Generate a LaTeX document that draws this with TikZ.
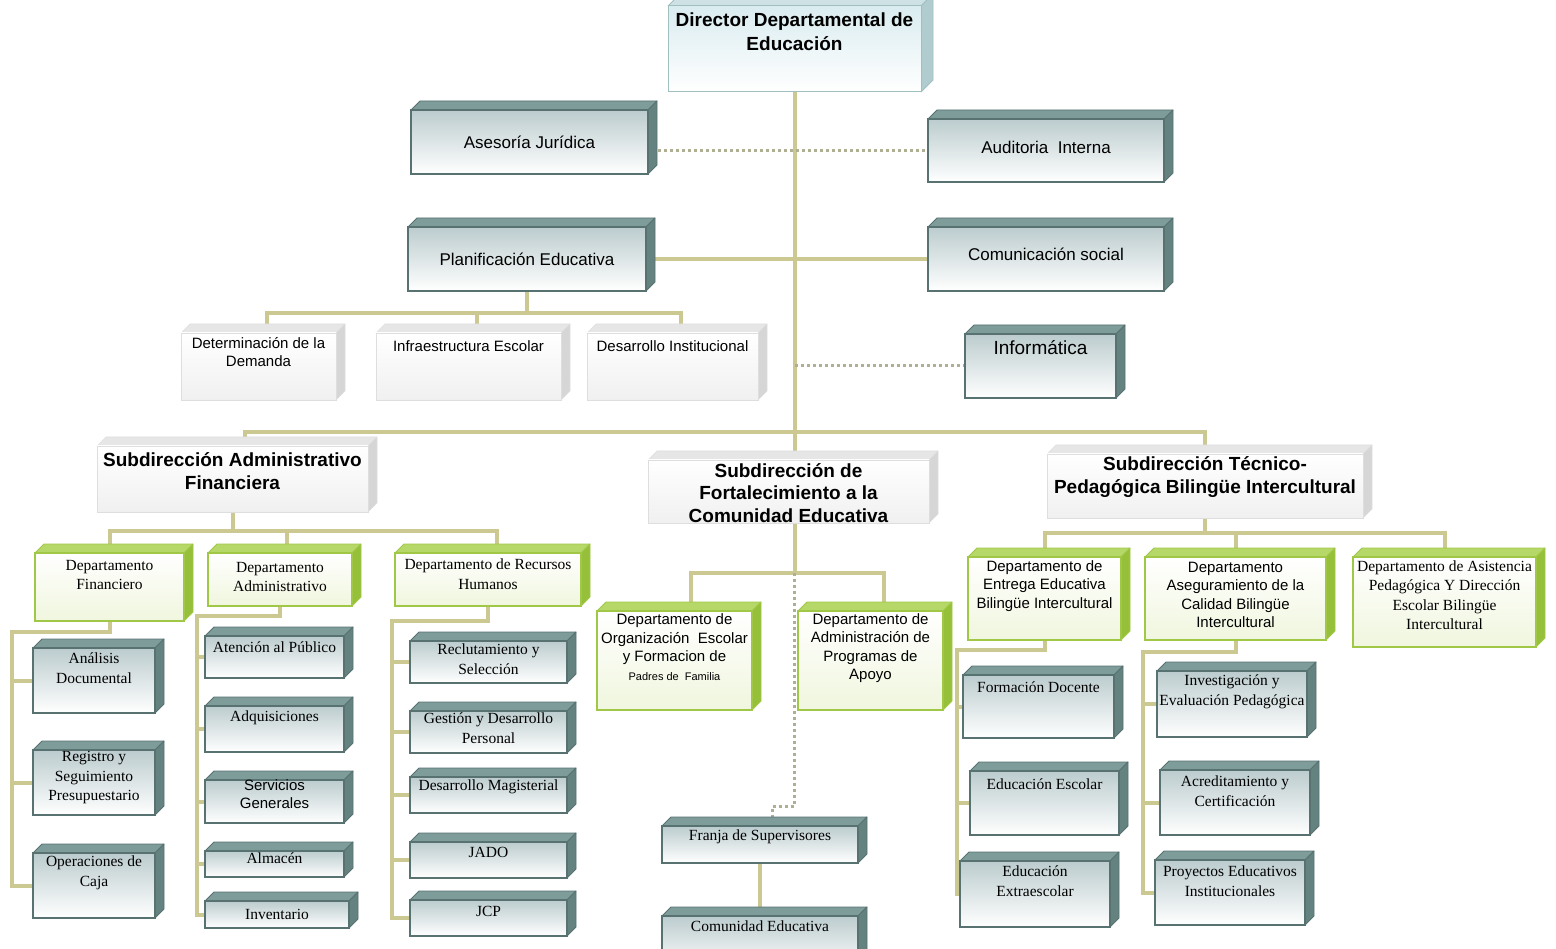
\documentclass[tikz,border=0pt]{standalone}
\usepackage{fontspec}
\setmainfont{Liberation Serif}
\setsansfont{Liberation Sans}
\usetikzlibrary{calc}
\pgfdeclarelayer{bg}
\pgfsetlayers{bg,main}

\definecolor{linec}{RGB}{204,200,146}
\definecolor{dotc}{RGB}{175,175,148}
\definecolor{tealb}{RGB}{88,114,114}
\definecolor{tealtopc}{RGB}{126,156,154}
\definecolor{tealsidec}{RGB}{100,130,128}
\definecolor{tealfacec}{RGB}{188,204,206}
\definecolor{grnb}{RGB}{160,200,70}
\definecolor{grntopc}{RGB}{182,216,104}
\definecolor{grnsidec}{RGB}{150,192,58}
\definecolor{grnfacec}{RGB}{240,246,222}
\definecolor{gryb}{RGB}{222,222,222}
\definecolor{grytopc}{RGB}{230,230,230}
\definecolor{grysidec}{RGB}{214,214,214}
\definecolor{gryfacec}{RGB}{240,240,240}
\definecolor{dirb}{RGB}{160,192,192}
\definecolor{dirtopc}{RGB}{206,226,230}
\definecolor{dirsidec}{RGB}{176,204,206}
\definecolor{dirfacec}{RGB}{218,236,240}

\def\depteal{9}
\def\depgreen{9}
\def\depgray{9}
\def\depdir{12}

\tikzset{
  teal-top/.style={fill=tealtopc, draw=tealb, line width=0.8pt, line join=round},
  teal-side/.style={fill=tealsidec, draw=tealb, line width=0.8pt, line join=round},
  teal-face/.style={draw=tealb, line width=1.1pt, top color=tealfacec, middle color=white!88!tealfacec, bottom color=white, inner sep=0pt, outer sep=0pt},
  green-top/.style={fill=grntopc, draw=grnb, line width=0.8pt, line join=round},
  green-side/.style={fill=grnsidec, draw=grnb, line width=0.8pt, line join=round},
  green-face/.style={draw=grnb, line width=1.6pt, top color=white, bottom color=grnfacec, inner sep=0pt, outer sep=0pt},
  gray-top/.style={fill=grytopc, draw=gryb, line width=0.6pt, line join=round},
  gray-side/.style={fill=grysidec, draw=gryb, line width=0.6pt, line join=round},
  gray-face/.style={draw=gryb, line width=0.8pt, top color=white, bottom color=gryfacec, inner sep=0pt, outer sep=0pt},
  dir-top/.style={fill=dirtopc, draw=dirb, line width=0.8pt, line join=round},
  dir-side/.style={fill=dirsidec, draw=dirb, line width=0.8pt, line join=round},
  dir-face/.style={draw=dirb, line width=1pt, top color=dirfacec, bottom color=white, inner sep=0pt, outer sep=0pt},
  fbig/.style={font={\sffamily\fontsize{17}{21}\selectfont}},
  fhuge/.style={font={\sffamily\fontsize{19}{23}\selectfont}},
  fsm/.style={font={\sffamily\fontsize{15}{18.5}\selectfont}},
  fser/.style={font={\rmfamily\fontsize{15.5}{19.5}\selectfont}},
  fbold/.style={font={\sffamily\bfseries\fontsize{19}{22.5}\selectfont}},
  fdir/.style={font={\sffamily\bfseries\fontsize{19}{24}\selectfont}},
  conn/.style={draw=linec, line width=4pt},
  dotl/.style={draw=dotc, line width=3pt, dash pattern=on 3pt off 3pt},
}

% #1 type, #2 name, #3 x1, #4 y1, #5 x2, #6 y2, #7 text y, #8 font style, #9 text
\newcommand\cube[9]{%
  \def\dd{\csname dep#1\endcsname}%
  \filldraw[#1-top] (#3,#4) -- ({#3+\dd},{#4-\dd}) -- ({#5+\dd},{#4-\dd}) -- (#5,#4) -- cycle;
  \filldraw[#1-side] (#5,#4) -- ({#5+\dd},{#4-\dd}) -- ({#5+\dd},{#6-\dd}) -- (#5,#6) -- cycle;
  \node[#1-face, minimum width={#5-#3}, minimum height={#6-#4}] (#2) at ({(#3+#5)/2},{(#4+#6)/2}) {};
  \node[#8, align=center, inner sep=0pt] (#2-t) at ({(#3+#5)/2},#7) {#9};
}

\begin{document}
\begin{tikzpicture}[x=1pt, y=-1pt]
\useasboundingbox (0,0) rectangle (1556,949);
\clip (0,0) rectangle (1556,949);

% ---------- boxes ----------
\cube{dir}{dir}{668}{6}{921}{92}{32}{fdir}{Director Departamental de\\Educación}

\cube{teal}{as}{411}{110}{648}{174}{142}{fbig}{Asesoría Jurídica}
\cube{teal}{au}{928}{119}{1164}{182}{147}{fbig}{Auditoria~ Interna}
\cube{teal}{pe}{408}{227}{646}{291}{259}{fbig}{Planificación Educativa}
\cube{teal}{cs}{928}{227}{1164}{291}{254}{fbig}{Comunicación social}
\cube{teal}{inf}{965}{334}{1116}{398}{348}{fhuge}{Informática}

\cube{gray}{det}{181}{333}{336}{400}{352}{fsm}{Determinación de la\\Demanda}
\cube{gray}{ie}{376}{333}{561}{400}{346}{fsm}{Infraestructura Escolar}
\cube{gray}{des}{587}{333}{758}{400}{346}{fsm}{Desarrollo Institucional}

\cube{gray}{sa}{97}{446}{368}{512}{471}{fbold}{Subdirección Administrativo\\Financiera}
\cube{gray}{sf}{648}{460}{929}{523}{493}{fbold}{Subdirección de\\Fortalecimiento a la\\Comunidad Educativa}
\cube{gray}{st}{1047}{454}{1363}{518}{477}{fbold}{Subdirección Técnico-\\Pedagógica Bilingüe Intercultural}

\cube{green}{fin}{35}{553}{184}{621}{575}{fser}{Departamento\\Financiero}
\cube{green}{ad}{208}{553}{352}{606}{577}{fser}{Departamento\\Administrativo}
\cube{green}{rh}{395}{553}{581}{606}{574}{fser}{Departamento de Recursos\\Humanos}
\cube{green}{org}{597}{611}{752}{710}{647}{fsm}{Departamento de\\Organización~ Escolar\\y Formacion de\\{\fontsize{11}{13}\selectfont Padres de~ Familia}}
\cube{green}{apa}{798}{611}{943}{710}{648}{fsm}{Departamento de\\Administración de\\Programas de\\Apoyo}
\cube{green}{ent}{968}{557}{1121}{640}{586}{fsm}{Departamento de\\Entrega Educativa\\Bilingüe Intercultural}
\cube{green}{ase}{1145}{557}{1326}{640}{595}{fsm}{Departamento\\Aseguramiento de la\\Calidad Bilingüe\\Intercultural}
\cube{green}{asi}{1353}{557}{1536}{647}{595}{fser}{Departamento de Asistencia\\Pedagógica Y Dirección\\Escolar Bilingüe\\Intercultural}

\cube{teal}{an}{33}{648}{155}{713}{668}{fser}{Análisis\\Documental}
\cube{teal}{reg}{33}{750}{155}{815}{778}{fser}{Registro y\\Seguimiento\\Presupuestario}
\cube{teal}{op}{33}{853}{155}{918}{873}{fser}{Operaciones de\\Caja}

\cube{teal}{at}{205}{636}{344}{678}{647}{fser}{Atención al Público}
\cube{teal}{adq}{205}{706}{344}{752}{718}{fser}{Adquisiciones}
\cube{teal}{sg}{205}{780}{344}{823}{794}{fsm}{Servicios\\Generales}
\cube{teal}{alm}{205}{851}{344}{877}{858}{fser}{Almacén}
\cube{teal}{inv}{205}{901}{349}{928}{914}{fser}{Inventario}

\cube{teal}{rc}{410}{641}{567}{683}{659}{fser}{Reclutamiento y\\Selección}
\cube{teal}{gd}{410}{711}{567}{753}{728}{fser}{Gestión y Desarrollo\\Personal}
\cube{teal}{dm}{410}{777}{567}{813}{787}{fser}{Desarrollo Magisterial}
\cube{teal}{jado}{410}{842}{567}{878}{852}{fser}{JADO}
\cube{teal}{jcp}{410}{900}{567}{936}{911}{fser}{JCP}

\cube{teal}{fra}{662}{826}{858}{863}{837}{fser}{Franja de Supervisores}
\cube{teal}{com}{662}{916}{858}{970}{926}{fser}{Comunidad Educativa}

\cube{teal}{fd}{963}{675}{1114}{738}{687}{fser}{Formación Docente}
\cube{teal}{ee}{970}{771}{1119}{835}{784}{fser}{Educación Escolar}
\cube{teal}{ext}{960}{861}{1110}{927}{881}{fser}{Educación\\Extraescolar}

\cube{teal}{iev}{1157}{671}{1307}{737}{692}{fser}{Investigación y\\Evaluación Pedagógica}
\cube{teal}{acr}{1160}{770}{1310}{835}{791}{fser}{Acreditamiento y\\Certificación}
\cube{teal}{pei}{1155}{860}{1305}{925}{881}{fser}{Proyectos Educativos\\Institucionales}

% ---------- connectors ----------
\begin{pgfonlayer}{bg}
\path (dir.south |- sf.north) coordinate (trb);
\draw[conn] (dir.south) -- (trb);
\path (dir.south) ++(0,340) coordinate (tr);
\draw[conn] ([xshift=12pt]sa.north) |- (tr) -| (st.north);

\draw[dotl] ([xshift=10pt]as.east |- au.west) -- (au.west);
\draw[conn] (pe.east) -- (cs.west);
\draw[dotl] (dir.south |- inf.west) -- (inf.west);

\path (pe.south) ++(0,22) coordinate (pb);
\draw[conn] (pe.south) -- (pb);
\draw[conn] ([xshift=8pt]det.north) |- (pb) -| ([xshift=8pt]des.north);
\draw[conn] ([xshift=8pt]ie.north) -- ([xshift=8pt]ie.north |- pb);

\path (sa.south) ++(0,19) coordinate (sab);
\draw[conn] (sa.south) -- (sab);
\draw[conn] (fin.north) |- (sab) -| ([xshift=9pt]rh.north);
\draw[conn] ([xshift=7pt]ad.north) -- ([xshift=7pt]ad.north |- sab);

\path (fin.south) ++(0,11) coordinate (fb1);
\path (an.west |- fb1) ++(-21,0) coordinate (fb2);
\draw[conn] (fin.south) -- (fb1) -- (fb2) |- (op.west);
\draw[conn] (fb2) |- (an.west);
\draw[conn] (fb2) |- (reg.west);

\path (ad.south) ++(0,10) coordinate (ab1);
\path (at.west |- ab1) ++(-8,0) coordinate (ab2);
\draw[conn] (ad.south) -- (ab1) -- (ab2) |- (inv.west);
\foreach \n in {at,adq,sg,alm} \draw[conn] (ab2) |- (\n.west);

\path (rh.south) ++(0,15) coordinate (rb1);
\path (rc.west |- rb1) ++(-18,0) coordinate (rb2);
\draw[conn] (rh.south) -- (rb1) -- (rb2) |- (jcp.west);
\foreach \n in {rc,gd,dm,jado} \draw[conn] (rb2) |- (\n.west);

\path (dir.south |- sf.south) coordinate (fo1);
\path (fo1) ++(0,50) coordinate (fo2);
\draw[conn] (fo1) -- (fo2);
\draw[conn] ([xshift=16pt]org.north) |- (fo2) -| ([xshift=13pt]apa.north);
\draw[dotl] (fo2) -- ++(0,233) -| ([xshift=12pt]fra.north);
\draw[conn] (fra.south) -- (com.north);

\path (st.south) ++(0,15) coordinate (tb);
\draw[conn] (st.south) -- (tb);
\draw[conn] (ent.north) |- (tb) -| (asi.north);
\draw[conn] (ase.north) -- (ase.north |- tb);

\path (ent.south) ++(0,10) coordinate (eb1);
\path (fd.west |- eb1) ++(-6,0) coordinate (eb2);
\draw[conn] (ent.south) -- (eb1) -- (eb2) |- (ext.west);
\draw[conn] (eb2) |- (fd.west);
\draw[conn] (eb2) |- (ee.west);

\path (ase.south) ++(0,12) coordinate (qb1);
\path (iev.west |- qb1) ++(-14,0) coordinate (qb2);
\draw[conn] (ase.south) -- (qb1) -- (qb2) |- (pei.west);
\draw[conn] (qb2) |- (iev.west);
\draw[conn] (qb2) |- (acr.west);
\end{pgfonlayer}
\end{tikzpicture}
\end{document}
